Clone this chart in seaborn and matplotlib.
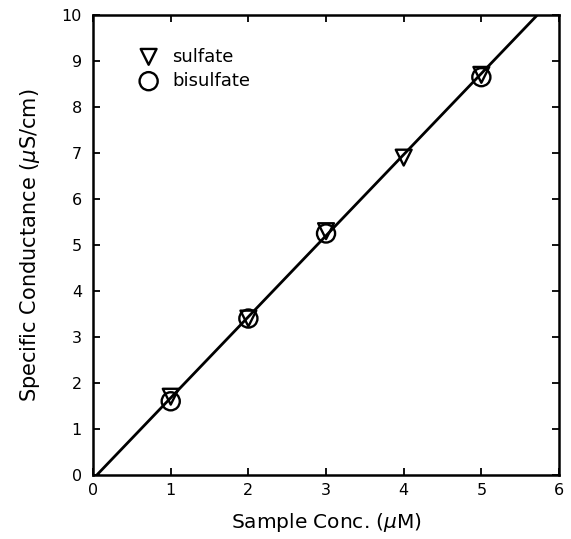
import matplotlib
matplotlib.use("Agg")
import matplotlib.pyplot as plt
import seaborn as sns
import pandas as pd

# values
sulfate_conc = [1, 2, 3, 4, 5]
sulfate_cond = [1.7, 3.4, 5.3, 6.9, 8.7]
bisulfate_conc = [1, 2, 3, 5]
bisulfate_cond = [1.6, 3.4, 5.25, 8.65]
fit_conc = [0.05, 5.72]
fit_cond = [0.0, 10.0]

x_ticks = [0, 1, 2, 3, 4, 5, 6]
y_ticks = list(range(0, 11))

sns.set_style("ticks", {"text.color": "black", "axes.labelcolor": "black",
                        "xtick.color": "black", "ytick.color": "black",
                        "axes.edgecolor": "black"})
plt.rcParams['font.family'] = ['DejaVu Sans']

fig, ax = plt.subplots(figsize=(5.71, 5.39), dpi=100)
fig.subplots_adjust(left=0.163, right=0.979, top=0.972, bottom=0.119)

sns.lineplot(x=fit_conc, y=fit_cond, ax=ax, color="black", lw=2)

df_s = pd.DataFrame({"conc": sulfate_conc, "cond": sulfate_cond})
df_b = pd.DataFrame({"conc": bisulfate_conc, "cond": bisulfate_cond})
sns.scatterplot(data=df_s, x="conc", y="cond", ax=ax, marker="v", s=130,
                facecolor="none", edgecolor="black", linewidth=1.7, label="sulfate", zorder=3)
sns.scatterplot(data=df_b, x="conc", y="cond", ax=ax, marker="o", s=170,
                facecolor="none", edgecolor="black", linewidth=1.7, label="bisulfate", zorder=3)

ax.set_xlim(0, 6)
ax.set_ylim(0, 10)
ax.set_xticks(x_ticks)
ax.set_yticks(y_ticks)
ax.tick_params(direction="in", top=True, right=True, length=5, width=1.3, labelsize=11.5)
ax.tick_params(axis="x", pad=6)
ax.tick_params(axis="y", pad=8)
for sp in ax.spines.values():
    sp.set_visible(True)
    sp.set_linewidth(1.8)

ax.set_xlabel("Sample Conc. ($\\mu$M)", fontsize=14.5, labelpad=9)
ax.set_ylabel("Specific Conductance ($\\mu$S/cm)", fontsize=15, labelpad=14)

ax.legend(loc="upper left", bbox_to_anchor=(0.065, 0.945), frameon=False, fontsize=13,
          handletextpad=0.3, labelspacing=0.35, borderaxespad=0)

fig.savefig("out.png", dpi=100)
